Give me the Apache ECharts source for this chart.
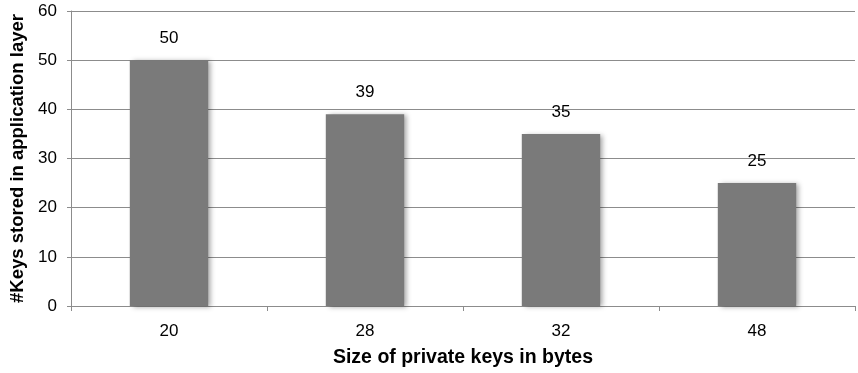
<!DOCTYPE html>
<html>
<head>
<meta charset="utf-8">
<script src="https://cdn.jsdelivr.net/npm/echarts@6/dist/echarts.min.js"></script>
<style>
  html, body { margin: 0; padding: 0; background: #fff; }
  #main { width: 858px; height: 373px; }
</style>
</head>
<body>
<div id="main"></div>
<script>
// data
const keySizes = ['20', '28', '32', '48'];
const keysStored = [50, 39, 35, 25];

let chart = echarts.init(document.getElementById('main'));
chart.setOption({
    animation: false,
    textStyle: { fontFamily: 'Liberation Sans, Arial, sans-serif' },
    grid: { left: 71, right: 3, top: 11, bottom: 67, containLabel: false, outerBoundsMode: 'none' },
    xAxis: {
        type: 'category',
        data: keySizes,
        name: 'Size of private keys in bytes',
        nameLocation: 'middle',
        nameGap: 42,
        nameTextStyle: { fontSize: 19.5, fontWeight: 'bold', color: '#000' },
        axisLine: { lineStyle: { color: '#8c8c8c', width: 1 } },
        axisTick: { show: true, alignWithLabel: false, length: 5, lineStyle: { color: '#8c8c8c' } },
        axisLabel: { fontSize: 17, color: '#000', margin: 17 }
    },
    yAxis: {
        type: 'value',
        min: 0,
        max: 60,
        interval: 10,
        name: '#Keys stored in application layer',
        nameLocation: 'middle',
        nameGap: 43,
        nameTextStyle: { fontSize: 18.5, fontWeight: 'bold', color: '#000' },
        axisLine: { show: true, lineStyle: { color: '#8c8c8c', width: 1 } },
        axisTick: { show: true, length: 4, lineStyle: { color: '#8c8c8c' } },
        axisLabel: { fontSize: 17, color: '#000', margin: 14 },
        splitLine: { lineStyle: { color: '#8c8c8c', width: 1 } }
    },
    series: [
        {
            type: 'bar',
            data: keysStored,
            barWidth: '40%',
            itemStyle: {
                color: '#7a7a7a',
                shadowColor: 'rgba(0,0,0,0.35)',
                shadowBlur: 5,
                shadowOffsetX: 3,
                shadowOffsetY: 1
            },
            label: {
                show: true,
                position: 'top',
                distance: 13,
                fontSize: 17,
                color: '#000'
            }
        }
    ]
});
</script>
</body>
</html>
